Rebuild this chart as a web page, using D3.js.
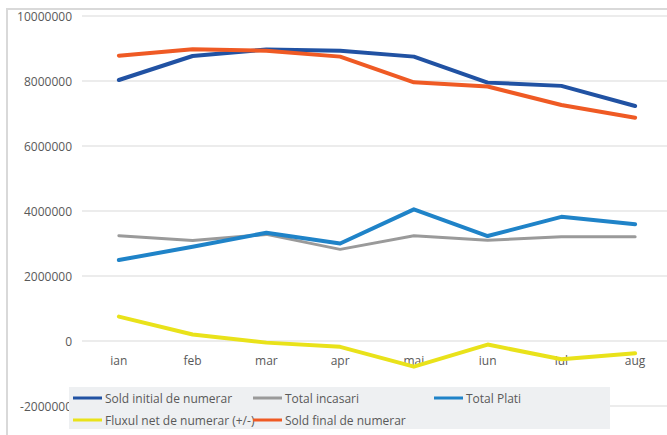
<!DOCTYPE html>
<html>
<head>
<meta charset="utf-8">
<script src="https://cdn.jsdelivr.net/npm/d3@7"></script>
<style>
  body { margin: 0; background: #fff; }
  text { font-family: "Open Sans", sans-serif; fill: #595959; }
</style>
</head>
<body>
<div id="chart"></div>
<script>
// lunile
const months = ["ian", "feb", "mar", "apr", "mai", "iun", "iul", "aug"];

const soldInitial = [8030000, 8770000, 8970000, 8930000, 8750000, 7950000, 7850000, 7230000];
const totalIncasari = [3240000, 3090000, 3280000, 2820000, 3240000, 3100000, 3210000, 3210000];
const totalPlati = [2490000, 2900000, 3330000, 3000000, 4050000, 3230000, 3820000, 3590000];
const fluxNet = [750000, 200000, -50000, -180000, -790000, -110000, -560000, -380000];
const soldFinal = [8780000, 8980000, 8930000, 8750000, 7960000, 7830000, 7260000, 6870000];

const yTicks = [-2000000, 0, 2000000, 4000000, 6000000, 8000000, 10000000];

const seriesNames = ["Sold initial de numerar", "Total incasari", "Total Plati", "Fluxul net de numerar (+/-)", "Sold final de numerar"];
const seriesColors = ["#2152a3", "#9a9a9a", "#1f83c8", "#e9e21a", "#ef5a24"];

const series = [soldInitial, totalIncasari, totalPlati, fluxNet, soldFinal].map((values, i) => ({
  name: seriesNames[i], color: seriesColors[i], width: i === 1 ? 3 : 4, values
}));

const W = 667, H = 435;
const margin = { top: 16, right: -5, bottom: 29, left: 82 };

const svg = d3.select("#chart").append("svg").attr("width", W).attr("height", H);

// chenar
svg.append("path").attr("d", `M7,${H} V9 H${W}`).attr("fill", "none").attr("stroke", "#d9d9d9").attr("stroke-width", 2);

const x = d3.scalePoint().domain(months).range([margin.left, W - margin.right]).padding(0.5);
const y = d3.scaleLinear().domain([-2000000, 10000000]).range([H - margin.bottom, margin.top]);

// grid
svg.append("g").selectAll("line").data(yTicks).enter().append("line")
  .attr("x1", margin.left).attr("x2", W).attr("y1", d => y(d)).attr("y2", d => y(d))
  .attr("stroke", "#d9d9d9").attr("stroke-width", 1);

svg.append("g").selectAll("text").data(yTicks).enter().append("text")
  .attr("x", 72).attr("y", d => y(d)).attr("text-anchor", "end").attr("dominant-baseline", "central")
  .style("font-size", "12px").text(d => d);

svg.append("g").selectAll("text").data(months).enter().append("text")
  .attr("x", d => x(d)).attr("y", y(0) + 19).attr("text-anchor", "middle").attr("dominant-baseline", "central")
  .style("font-size", "12px").text(d => d);

const line = d3.line().x((d, i) => x(months[i])).y(d => y(d));

svg.append("g").selectAll("path").data(series).enter().append("path")
  .attr("d", d => line(d.values)).attr("fill", "none").attr("stroke", d => d.color)
  .attr("stroke-width", d => d.width).attr("stroke-linejoin", "round").attr("stroke-linecap", "round");

// legenda
const legend = svg.append("g");
legend.append("rect").attr("x", 69).attr("y", 387).attr("width", 541).attr("height", 42).attr("fill", "#eef0f2");
const legendPos = [[73, 398], [253, 398], [434, 398], [73, 420], [253, 420]];
const items = legend.selectAll("g").data(series).enter().append("g")
  .attr("transform", (d, i) => `translate(${legendPos[i][0]},${legendPos[i][1]})`);
items.append("line").attr("x1", 0).attr("x2", 29).attr("stroke", d => d.color).attr("stroke-width", 3);
items.append("text").attr("x", 32).attr("dominant-baseline", "central").style("font-size", "12px").text(d => d.name);
</script>
</body>
</html>
